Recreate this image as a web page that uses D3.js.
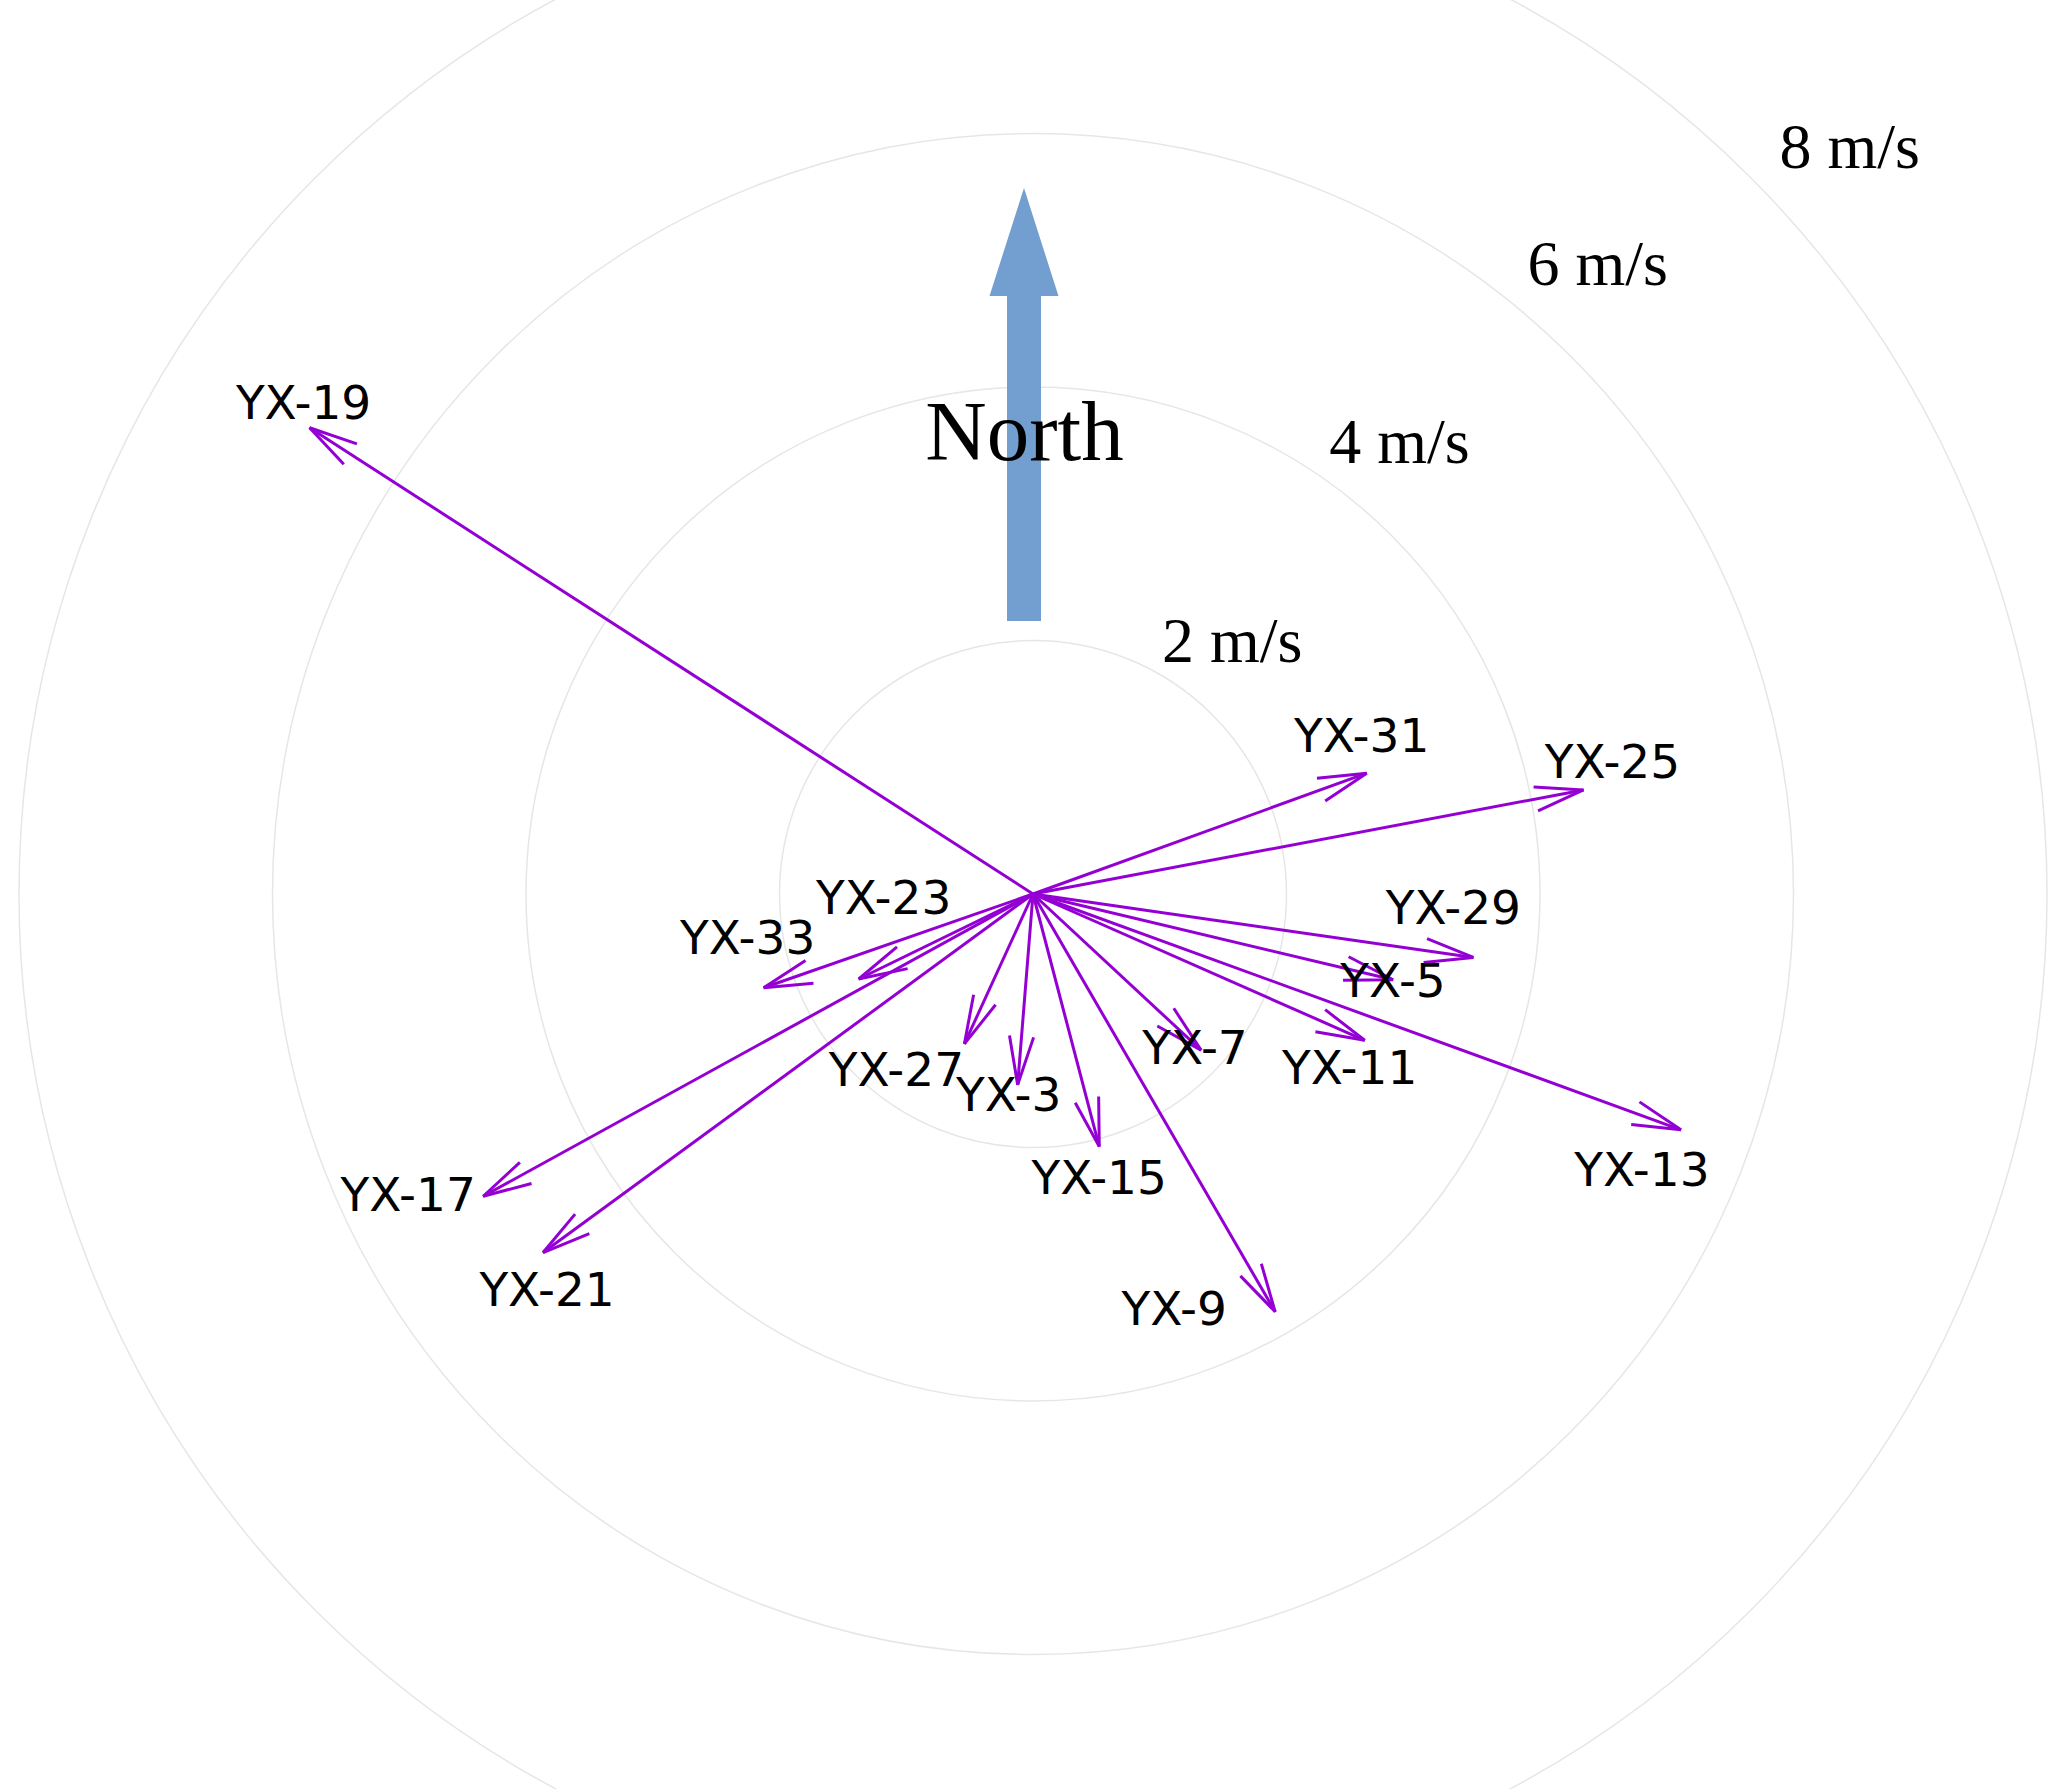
<!DOCTYPE html>
<html>
<head>
<meta charset="utf-8">
<script src="https://cdn.jsdelivr.net/npm/d3@7"></script>
<style>
  html, body { margin: 0; padding: 0; background: #fff; }
  #windChart { width: 2067px; height: 1789px; }
</style>
</head>
<body>
<div id="windChart"></div>
<script>
// 站点名称
var stations = ["YX-3","YX-5","YX-7","YX-9","YX-11","YX-13","YX-15","YX-17",
                "YX-19","YX-21","YX-23","YX-25","YX-27","YX-29","YX-31","YX-33"];
// 风向（度，正北顺时针，箭头指向）
var directions = [184.6,103.4,132.9,149.9,113.8,110.0,165.3,241.2,
                  302.8,233.8,244.0,79.3,204.6,98.2,70.1,250.8];
// 风速 m/s
var speeds = [1.51,2.92,1.81,3.81,2.86,5.44,2.06,4.95,
              6.79,4.79,1.53,4.42,1.30,3.51,2.80,2.25];
// 同心圆刻度
var ringValues = [2,4,6,8];
var ringLabels = ["2 m/s","4 m/s","6 m/s","8 m/s"];

/*布局参数，可修改*/
var svgWidth = 2067, svgHeight = 1789;
var cx = 1033, cy = 894;
var arrowColor = "#9400d3";
var headLen = 50, headAng = 14 * Math.PI / 180;
// 站点标签相对箭头末端的偏移（标签中心x，基线y）
var labelOffsets = [[-9,26],[0,17],[-6,14],[-101,13],[-15,44],[-39,56],[0,47],[-75,15],
                    [-6,-9],[4,53],[25,-65],[29,-12],[-68,42],[-20,-33],[-5,-21],[-16,-34]];
// 刻度标签的位置（角度，距离圆外的间距）
var ringLabelAngle = [38.3,39.1,41.9,47.6];
var ringLabelPad = [68,74,85,92];

var svg = d3.select("#windChart").append("svg")
    .attr("width", svgWidth)
    .attr("height", svgHeight)
    .style("background-color", "#ffffff");

/*半径比例尺*/
var rScale = d3.scaleLinear().domain([0, 8]).range([0, 1014]);

/*同心圆*/
svg.append("g").selectAll("circle")
    .data(ringValues)
    .enter().append("circle")
    .attr("cx", cx).attr("cy", cy)
    .attr("r", function(d){ return rScale(d); })
    .attr("fill", "none")
    .attr("stroke", "#e6e6e6")
    .attr("stroke-width", 1.5);

/*刻度文字*/
svg.append("g").selectAll("text")
    .data(ringValues)
    .enter().append("text")
    .attr("x", function(d,i){
        var a = ringLabelAngle[i] * Math.PI / 180;
        return cx + (rScale(d) + ringLabelPad[i]) * Math.sin(a);
    })
    .attr("y", function(d,i){
        var a = ringLabelAngle[i] * Math.PI / 180;
        return cy - (rScale(d) + ringLabelPad[i]) * Math.cos(a) + 20;
    })
    .attr("text-anchor", "middle")
    .style("font-family", "'Liberation Serif','Times New Roman',serif")
    .style("font-size", "64px")
    .attr("fill", "#000")
    .text(function(d,i){ return ringLabels[i]; });

/*北向箭头*/
var nx = 1024;
svg.append("path")
    .attr("d", "M" + nx + ",188 L" + (nx+34.5) + ",296 L" + (nx+17) + ",296 L" + (nx+17) + ",621 L" +
               (nx-17) + ",621 L" + (nx-17) + ",296 L" + (nx-34.5) + ",296 Z")
    .attr("fill", "#729fcf");
svg.append("text")
    .attr("x", nx + 0.5).attr("y", 460)
    .attr("text-anchor", "middle")
    .style("font-family", "'Liberation Serif','Times New Roman',serif")
    .style("font-size", "85px")
    .attr("fill", "#000")
    .text("North");

/*风矢量*/
var data = stations.map(function(s,i){
    var a = directions[i] * Math.PI / 180;
    var r = rScale(speeds[i]);
    return {name: s, x: cx + r * Math.sin(a), y: cy - r * Math.cos(a), ang: a, off: labelOffsets[i]};
});

var gArrow = svg.append("g")
    .attr("fill", "none")
    .attr("stroke", arrowColor)
    .attr("stroke-width", 3);

gArrow.selectAll("line")
    .data(data)
    .enter().append("line")
    .attr("x1", cx).attr("y1", cy)
    .attr("x2", function(d){ return d.x; })
    .attr("y2", function(d){ return d.y; });

gArrow.selectAll("path")
    .data(data)
    .enter().append("path")
    .attr("d", function(d){
        // 反方向角度（屏幕坐标）
        var back = Math.atan2(cy - d.y, cx - d.x);
        var x1 = d.x + headLen * Math.cos(back + headAng), y1 = d.y + headLen * Math.sin(back + headAng);
        var x2 = d.x + headLen * Math.cos(back - headAng), y2 = d.y + headLen * Math.sin(back - headAng);
        return "M" + x1 + "," + y1 + " L" + d.x + "," + d.y + " L" + x2 + "," + y2;
    });

/*站点标签*/
svg.append("g").selectAll("text")
    .data(data)
    .enter().append("text")
    .attr("x", function(d){ return d.x + d.off[0]; })
    .attr("y", function(d){ return d.y + d.off[1]; })
    .attr("text-anchor", "middle")
    .style("font-family", "'DejaVu Sans',sans-serif")
    .style("font-size", "47px")
    .attr("fill", "#000")
    .text(function(d){ return d.name; });
</script>
</body>
</html>
